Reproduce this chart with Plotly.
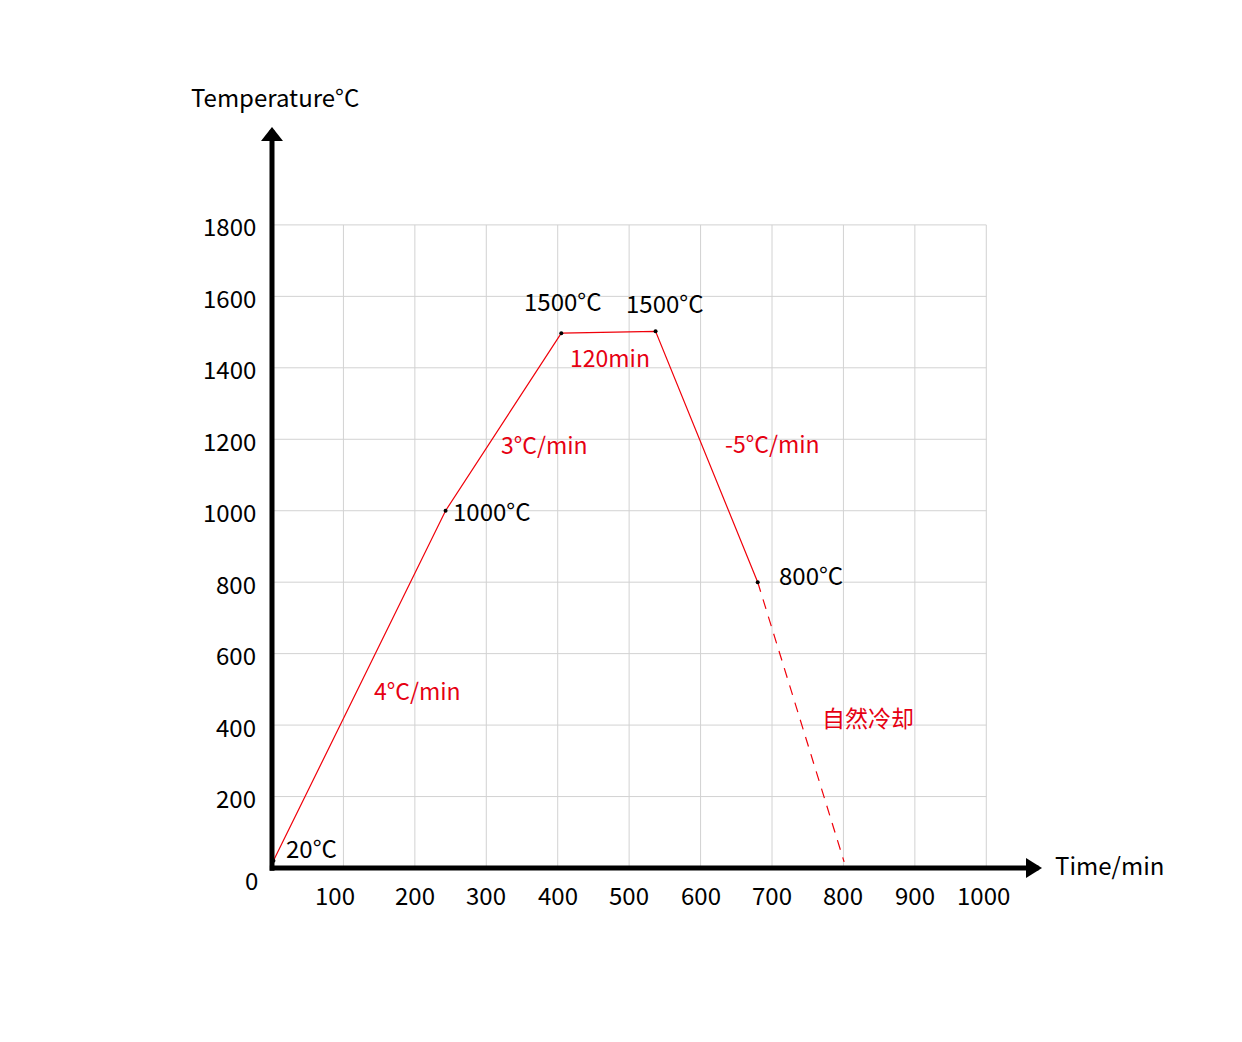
import plotly.graph_objects as go

# ---------------- data ----------------
# heating / holding / cooling profile (time in min, temperature in °C)
profile_time = [2, 243, 405, 537, 680]
profile_temp = [20, 1000, 1497, 1502, 800]

# natural cooling (dashed)
cooling_time = [680, 801]
cooling_temp = [800, 17]

# point labels
point_labels = ["20°C", "1000°C", "1500°C", "1500°C", "800°C"]
point_label_x = [55, 307, 406, 550, 755]
point_label_y = [53, 996, 1584, 1576, 817]

# rate / segment labels
rate_labels = ["4°C/min", "3°C/min", "120min", "-5°C/min", "自然冷却"]
rate_label_x = [204, 382, 473, 701, 834]
rate_label_y = [493, 1181, 1425, 1184, 417]

# axes ticks
x_ticks = [100, 200, 300, 400, 500, 600, 700, 800, 900, 1000]
x_tick_labels = ["100", "200", "300", "400", "500", "600", "700", "800", "900", "1000"]
y_ticks = [0, 200, 400, 600, 800, 1000, 1200, 1400, 1600, 1800]
y_tick_labels = ["0", "200", "400", "600", "800", "1000", "1200", "1400", "1600", "1800"]

x_title = "Time/min"
y_title = "Temperature°C"

# ---------------- style ----------------
FONT = "Noto Sans CJK SC"
FS = 24
RED_LINE = "#f0000a"
RED_TEXT = "#e60012"
GRID = "#d2d2d2"
GRID_X_MAX = 1000
GRID_Y_MAX = 1800
AXIS_X_END = 1078
AXIS_Y_END = 2074
TEXT_DY = 2  # small upward nudge for all labels
# page body has an 8px margin, so the data origin sits at (264, 860) inside the div
X_RANGE = [-369.6, 1369.2]
Y_RANGE = [-509.4, 2407.1]

fig = go.Figure()

# grid lines
gx, gy = [], []
for t in x_ticks:
    gx += [t, t, None]
    gy += [0, GRID_Y_MAX, None]
for t in y_ticks[1:]:
    gx += [0, GRID_X_MAX, None]
    gy += [t, t, None]
fig.add_trace(go.Scatter(x=gx, y=gy, mode="lines",
                         line=dict(color=GRID, width=1), hoverinfo="skip"))

# profile
fig.add_trace(go.Scatter(x=profile_time, y=profile_temp, mode="lines",
                         line=dict(color=RED_LINE, width=1.2), hoverinfo="skip"))
fig.add_trace(go.Scatter(x=cooling_time, y=cooling_temp, mode="lines",
                         line=dict(color=RED_LINE, width=1.2, dash="10px,8px"),
                         hoverinfo="skip"))
fig.add_trace(go.Scatter(x=profile_time, y=profile_temp, mode="markers",
                         marker=dict(color="black", size=4), hoverinfo="skip"))

# axes lines
fig.add_shape(type="line", xref="x", yref="y", x0=-3, x1=AXIS_X_END - 5, y0=0, y1=0,
              line=dict(color="black", width=5))
fig.add_shape(type="line", xref="x", yref="y", x0=0, x1=0, y0=-8, y1=AXIS_Y_END - 10,
              line=dict(color="black", width=5))
# arrow heads (pixel-sized, anchored at tips)
fig.add_shape(type="path", xref="x", yref="y", xsizemode="pixel", ysizemode="pixel",
              xanchor=0, yanchor=AXIS_Y_END,
              path="M 0 0 L -11 -14 L 11 -14 Z",
              fillcolor="black", line=dict(color="black", width=0))
fig.add_shape(type="path", xref="x", yref="y", xsizemode="pixel", ysizemode="pixel",
              xanchor=AXIS_X_END, yanchor=0,
              path="M 0 0 L -16 10 L -16 -10 Z",
              fillcolor="black", line=dict(color="black", width=0))

ann = []
# x tick labels
for t, lab in zip(x_ticks, x_tick_labels):
    ann.append(dict(x=t, y=0, text=lab, showarrow=False, xanchor="center",
                    yanchor="middle", yshift=-26,
                    xshift=-8 if t == 100 else (-3 if t == 1000 else 0),
                    font=dict(family=FONT, size=FS, color="black")))
# y tick labels
for t, lab in zip(y_ticks, y_tick_labels):
    if t == 0:
        ann.append(dict(x=0, y=t, text=lab, showarrow=False, xanchor="center",
                        yanchor="middle", xshift=-21, yshift=-11,
                        font=dict(family=FONT, size=FS, color="black")))
    else:
        ann.append(dict(x=0, y=t, text=lab, showarrow=False, xanchor="right",
                        yanchor="middle", xshift=-14, yshift=-1,
                        font=dict(family=FONT, size=FS, color="black")))
# point labels
for xx, yy, lab in zip(point_label_x, point_label_y, point_labels):
    ann.append(dict(x=xx, y=yy, text=lab, showarrow=False, xanchor="center",
                    yanchor="middle", yshift=TEXT_DY,
                    font=dict(family=FONT, size=FS, color="black")))
# rate labels
for xx, yy, lab in zip(rate_label_x, rate_label_y, rate_labels):
    ann.append(dict(x=xx, y=yy, text=lab, showarrow=False, xanchor="center",
                    yanchor="middle", yshift=TEXT_DY,
                    font=dict(family=FONT, size=FS - 1, color=RED_TEXT)))
# axis titles
ann.append(dict(x=4, y=2155, text=y_title, showarrow=False, xanchor="center",
                yanchor="middle", yshift=TEXT_DY,
                font=dict(family=FONT, size=FS, color="black")))
ann.append(dict(x=1173, y=6, text=x_title, showarrow=False, xanchor="center",
                yanchor="middle", yshift=1,
                font=dict(family=FONT, size=FS, color="black")))

fig.update_layout(
    width=1242, height=1042,
    margin=dict(l=0, r=0, t=0, b=0),
    paper_bgcolor="white", plot_bgcolor="white",
    showlegend=False,
    xaxis=dict(visible=False, range=X_RANGE, fixedrange=True),
    yaxis=dict(visible=False, range=Y_RANGE, fixedrange=True),
    annotations=ann,
)

fig.write_html("out.html")
